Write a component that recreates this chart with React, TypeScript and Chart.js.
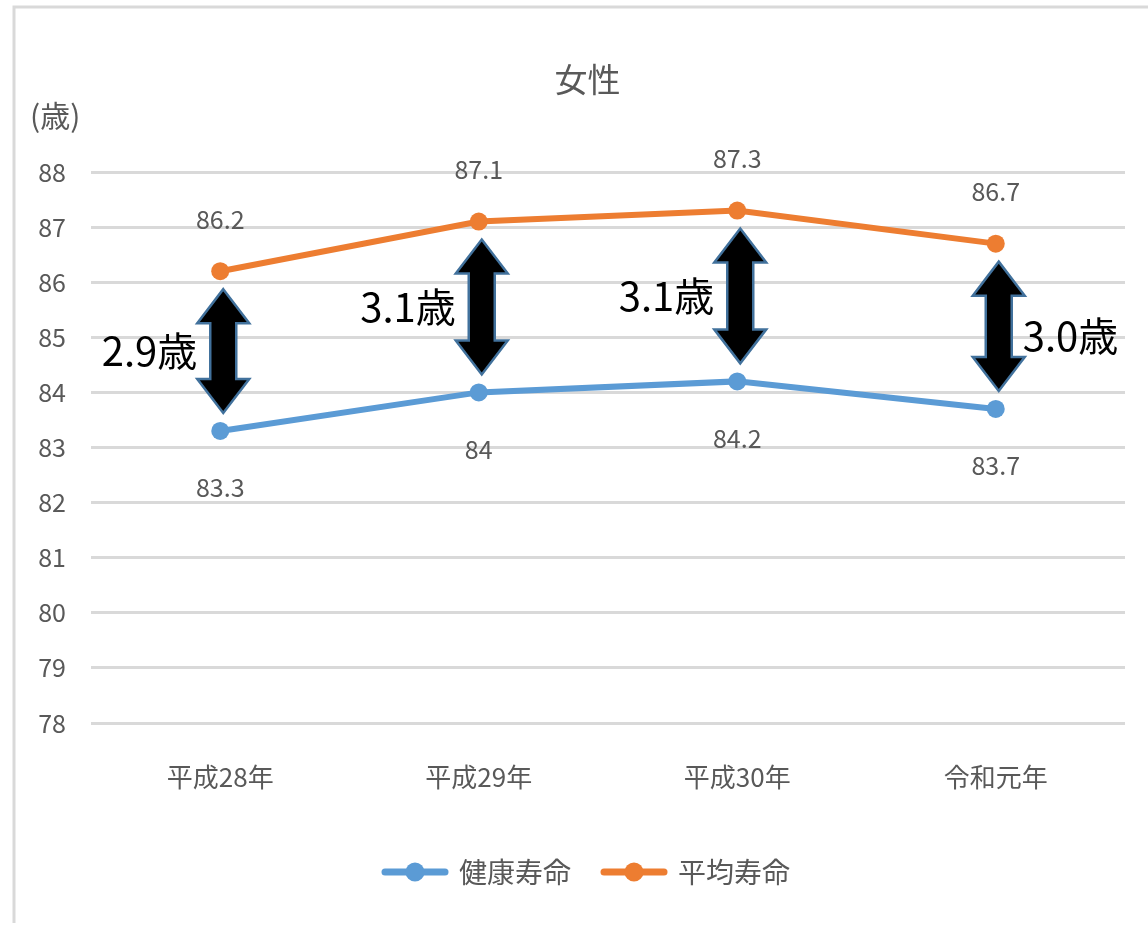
import React, { useEffect, useRef } from "react";
import { Chart, registerables } from "chart.js";

Chart.register(...registerables);

const categories = ["平成28年", "平成29年", "平成30年", "令和元年"];
const healthyLife = [83.3, 84, 84.2, 83.7];
const averageLife = [86.2, 87.1, 87.3, 86.7];
const gapLabels = ["2.9歳", "3.1歳", "3.1歳", "3.0歳"];
const seriesNames = ["健康寿命", "平均寿命"];
const chartTitle = "女性";
const unitLabel = "(歳)";
const yMin = 78;
const yMax = 88;

const FONT = "'Noto Sans CJK JP', 'Noto Sans', sans-serif";
const BLUE = "#5B9BD5";
const ORANGE = "#ED7D31";
const TEXT = "#595959";

function legendImage(color: string): HTMLCanvasElement {
  const c = document.createElement("canvas");
  c.width = 68;
  c.height = 22;
  const g = c.getContext("2d")!;
  g.strokeStyle = color;
  g.lineWidth = 7;
  g.lineCap = "round";
  g.beginPath();
  g.moveTo(4, 11);
  g.lineTo(64, 11);
  g.stroke();
  g.fillStyle = color;
  g.beginPath();
  g.arc(34, 11, 9.5, 0, Math.PI * 2);
  g.fill();
  return c;
}

const annotations = {
  id: "annotations",
  beforeDraw(chart: any) {
    const ctx = chart.ctx;
    ctx.save();
    ctx.strokeStyle = "#D9D9D9";
    ctx.lineWidth = 3;
    ctx.beginPath();
    ctx.moveTo(14, 923);
    ctx.lineTo(14, 7);
    ctx.lineTo(1148, 7);
    ctx.stroke();
    ctx.restore();
  },
  afterDatasetsDraw(chart: any) {
    const ctx = chart.ctx;
    const x = chart.scales.x;
    const y = chart.scales.y;
    ctx.save();
    // unit label
    ctx.fillStyle = TEXT;
    ctx.font = `30px ${FONT}`;
    ctx.textAlign = "left";
    ctx.textBaseline = "middle";
    ctx.fillText(unitLabel, 30, chart.chartArea.top - 56);

    // arrows & gap labels
    const gap = 18;
    categories.forEach((_, i) => {
      const cx = x.getPixelForValue(i) + 3;
      const top = y.getPixelForValue(averageLife[i]) + gap;
      const bot = y.getPixelForValue(healthyLife[i]) - gap;
      const sw = 13;
      const hw = 26;
      const hl = 34;
      ctx.beginPath();
      ctx.moveTo(cx, top);
      ctx.lineTo(cx + hw, top + hl);
      ctx.lineTo(cx + sw, top + hl);
      ctx.lineTo(cx + sw, bot - hl);
      ctx.lineTo(cx + hw, bot - hl);
      ctx.lineTo(cx, bot);
      ctx.lineTo(cx - hw, bot - hl);
      ctx.lineTo(cx - sw, bot - hl);
      ctx.lineTo(cx - sw, top + hl);
      ctx.lineTo(cx - hw, top + hl);
      ctx.closePath();
      ctx.fillStyle = "#000000";
      ctx.fill();
      ctx.strokeStyle = "#41719C";
      ctx.lineWidth = 2.5;
      ctx.lineJoin = "miter";
      ctx.stroke();

      const mid = (top + bot) / 2;
      ctx.fillStyle = "#000000";
      ctx.font = `40px ${FONT}`;
      ctx.textBaseline = "middle";
      if (i === categories.length - 1) {
        ctx.textAlign = "left";
        ctx.fillText(gapLabels[i], cx + 24, mid + 10);
      } else {
        ctx.textAlign = "right";
        ctx.fillText(gapLabels[i], cx - 26, mid);
      }
    });

    // data labels
    ctx.fillStyle = TEXT;
    ctx.font = `25px ${FONT}`;
    ctx.textAlign = "center";
    ctx.textBaseline = "middle";
    categories.forEach((_, i) => {
      const px = x.getPixelForValue(i);
      ctx.fillText(String(averageLife[i]), px, y.getPixelForValue(averageLife[i]) - 52);
      ctx.fillText(String(healthyLife[i]), px, y.getPixelForValue(healthyLife[i]) + 57);
    });
    ctx.restore();
  },
};

export default function App() {
  const ref = useRef<HTMLCanvasElement | null>(null);
  useEffect(() => {
    document.body.style.margin = "0";
    const canvas = ref.current!;
    const images = [legendImage(BLUE), legendImage(ORANGE)];
    const chart = new Chart(canvas, {
      type: "line",
      data: {
        labels: categories,
        datasets: [
          {
            label: seriesNames[0],
            data: healthyLife,
            borderColor: BLUE,
            backgroundColor: BLUE,
            borderWidth: 6,
            pointRadius: 9,
            pointBorderWidth: 0,
            pointBackgroundColor: BLUE,
            tension: 0,
          },
          {
            label: seriesNames[1],
            data: averageLife,
            borderColor: ORANGE,
            backgroundColor: ORANGE,
            borderWidth: 6,
            pointRadius: 9,
            pointBorderWidth: 0,
            pointBackgroundColor: ORANGE,
            tension: 0,
          },
        ],
      },
      options: {
        animation: false,
        responsive: false,
        devicePixelRatio: 1,
        layout: { padding: { left: 50, right: 23, top: 40, bottom: 37 } },
        plugins: {
          title: {
            display: true,
            text: chartTitle,
            color: TEXT,
            font: { size: 33, family: FONT, weight: "normal" },
            padding: { top: 20, bottom: 72.4 },
          },
          legend: {
            position: "bottom",
            labels: {
              usePointStyle: true,
              pointStyleWidth: 60,
              boxHeight: 20,
              padding: 33,
              color: TEXT,
              font: { size: 28, family: FONT },
              generateLabels: (ch: any) =>
                ch.data.datasets.map((d: any, i: number) => ({
                  text: d.label,
                  pointStyle: images[i],
                  fillStyle: d.borderColor,
                  strokeStyle: d.borderColor,
                  lineWidth: 0,
                  hidden: false,
                  datasetIndex: i,
                  fontColor: TEXT,
                })),
            },
          },
          tooltip: { enabled: false },
        },
        scales: {
          x: {
            offset: true,
            grid: { display: false, drawTicks: false },
            border: { display: false },
            ticks: { color: TEXT, font: { size: 26, family: FONT }, padding: 39 },
            afterFit: (s: any) => {
              s.height = 102;
            },
          },
          y: {
            min: yMin,
            max: yMax,
            grid: { color: "#D9D9D9", lineWidth: 3, drawTicks: false },
            border: { display: false },
            ticks: { stepSize: 1, color: TEXT, font: { size: 25, family: FONT }, padding: 25 },
            afterFit: (s: any) => {
              s.width = 41;
              // allow tick labels to extend left of the narrow axis box
              s._computeLabelArea = () => undefined;
            },
          },
        },
      },
      plugins: [annotations],
    } as any);
    return () => chart.destroy();
  }, []);
  return (
    <div style={{ width: 1148, height: 933, background: "#ffffff" }}>
      <canvas ref={ref} width={1148} height={933} style={{ display: "block" }} />
    </div>
  );
}
